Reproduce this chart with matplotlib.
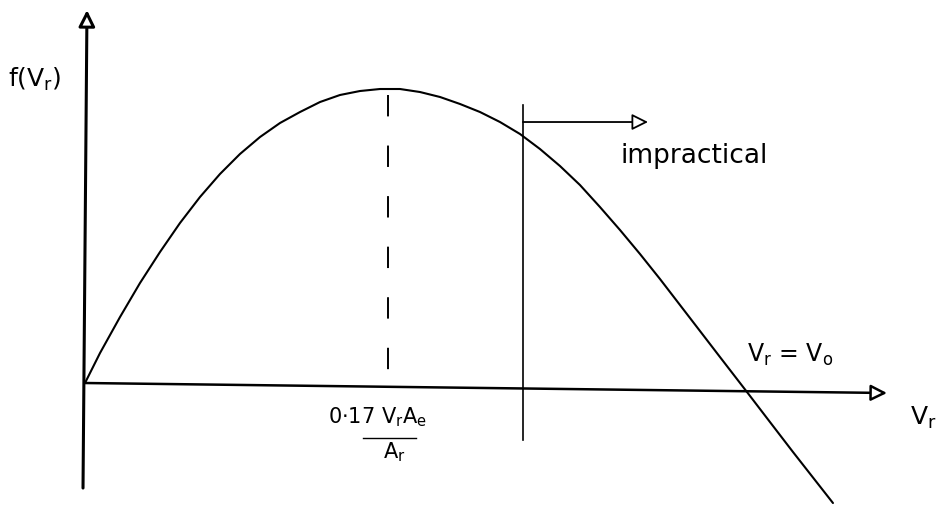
import matplotlib
matplotlib.use("Agg")
import matplotlib.pyplot as plt

plt.rcParams['font.family'] = ['DejaVu Sans']
plt.rcParams['mathtext.fontset'] = 'custom'
plt.rcParams['mathtext.rm'] = 'DejaVu Sans'
plt.rcParams['mathtext.it'] = 'DejaVu Sans'

# curve f(V_r), V_r scaled so that V_o = 1, f scaled so the peak ~ 1
v_r = [0.0, 0.0227, 0.0529, 0.0831, 0.1133, 0.1435, 0.1737, 0.2039, 0.2341,
       0.2644, 0.2946, 0.3248, 0.3550, 0.3852, 0.4154, 0.4456, 0.4758, 0.5060,
       0.5363, 0.5665, 0.5967, 0.6269, 0.6571, 0.6873, 0.7175, 0.7477, 0.7779,
       0.8082, 0.8384, 0.8686, 0.8988, 0.9290, 0.9592, 1.0, 1.0347, 1.0695,
       1.1299]
f_v = [0.0, 0.1017, 0.2237, 0.3390, 0.4441, 0.5424, 0.6305, 0.7085, 0.7763,
       0.8339, 0.8814, 0.9186, 0.9525, 0.9763, 0.9898, 0.9966, 0.9966, 0.9864,
       0.9695, 0.9458, 0.9186, 0.8847, 0.8441, 0.7932, 0.7356, 0.6712, 0.5966,
       0.5186, 0.4373, 0.3525, 0.2644, 0.1763, 0.0881, -0.0305, -0.1322,
       -0.2339, -0.4068]

v_peak = 0.4577      # 0.17 Vr Ae / Ar
f_peak = 0.976
v_limit = 0.6616     # start of the impractical region
v_root = 1.0         # Vr = Vo

fig = plt.figure(figsize=(9.42, 5.07), dpi=100)
ax = fig.add_axes([0, 0, 1, 1])
ax.set_xlim(-0.1284, 1.2946)
ax.set_ylim(-0.4203, 1.2983)
ax.axis('off')

head = dict(arrowstyle='-|>,head_length=0.7,head_width=0.35', mutation_scale=14,
            fc='white', ec='black', shrinkA=0, shrinkB=0)

# axes (the hand drawn x axis sags slightly to the right)
ax.annotate('', xy=(0.003, 1.264), xytext=(-0.003, -0.356),
            arrowprops=dict(lw=2.2, **head))
ax.annotate('', xy=(1.2115, -0.0339), xytext=(0.0, 0.0),
            arrowprops=dict(lw=1.8, **head))

# curve
ax.plot(v_r, f_v, color='black', lw=1.5, solid_joinstyle='round',
        solid_capstyle='round')

# peak marker
ax.plot([v_peak, v_peak], [f_peak, -0.015], color='black', lw=1.4,
        dashes=(11, 15))

# impractical boundary
ax.plot([v_limit, v_limit], [-0.1932, 0.9424], color='black', lw=1.2)
ax.annotate('', xy=(0.8505, 0.8847), xytext=(v_limit, 0.8847),
            arrowprops=dict(lw=1.3, **head))

# labels
ax.text(-0.1163, 1.0034, r'f($\mathrm{V_r}$)', fontsize=18, va='baseline')
ax.text(0.8082, 0.7458, 'impractical', fontsize=19, va='baseline')
ax.text(v_root, 0.0712, r'$\mathrm{V_r}$ = $\mathrm{V_o}$', fontsize=17, va='baseline')
ax.text(1.2462, -0.1424, r'$\mathrm{V_r}$', fontsize=18, va='baseline')
ax.text(0.3671, -0.1356, r'0$\cdot$17 $\mathrm{V_rA_e}$', fontsize=15, va='baseline')
ax.plot([0.4199, 0.5], [-0.1864, -0.1864], color='black', lw=1.0)
ax.text(0.4502, -0.2542, r'$\mathrm{A_r}$', fontsize=15, va='baseline')

fig.savefig('out.png', dpi=100)
